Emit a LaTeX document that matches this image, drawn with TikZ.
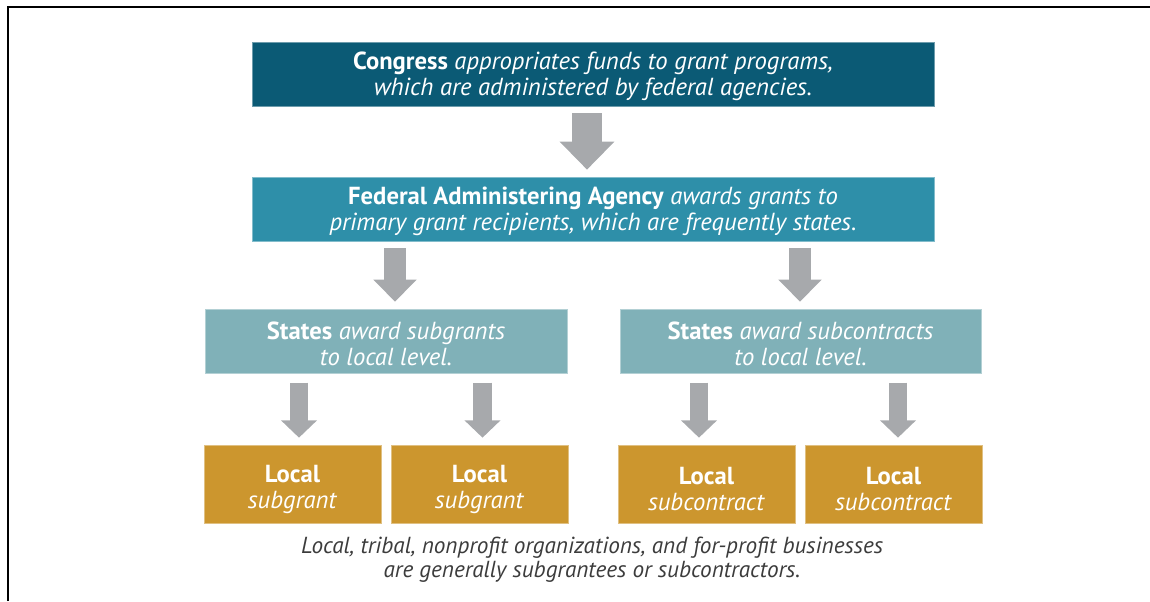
\documentclass[tikz,border=0pt]{standalone}
\usepackage{fontspec}
\setmainfont{PT Sans}
\usepackage{xcolor}
\usetikzlibrary{positioning,arrows.meta}
\definecolor{topblue}{HTML}{0B5A75}
\definecolor{midblue}{HTML}{2E8FA9}
\definecolor{lowblue}{HTML}{80B1B8}
\definecolor{gold}{HTML}{CC962E}
\definecolor{arrowgray}{HTML}{A7A9AC}
\definecolor{notegray}{HTML}{3C3C3C}
\newcommand{\pushstrut}[1]{\rule{0pt}{#1}}

\begin{document}
\begin{tikzpicture}[x=0.75pt,y=-0.75pt,
    box/.style={inner sep=0pt, text=white, align=center,
        font=\fontsize{18.5}{19.5}\selectfont},
    flow/.style={arrowgray, line width=#1},
    bigtip/.style={-{Triangle[width=39.75pt,length=21pt]}},
    midtip/.style={-{Triangle[width=31.5pt,length=16.5pt]}},
    smalltip/.style={-{Triangle[width=26.25pt,length=13pt]}}]
    \useasboundingbox (0,0) rectangle (1150,601);
    \draw[line width=2pt] (8,601) -- (8,7) -- (1150,7);

    \node (congress) [box, fill=topblue, draw=topblue!60!white, line width=0.5pt,
        minimum width=511.5pt, minimum height=48pt] at (593,74)
        {\pushstrut{17pt}\textbf{Congress} \textit{appropriates funds to grant programs,}\\
         \textit{which are administered by federal agencies.}};
    \node (agency) [box, fill=midblue, draw=midblue!60!white, line width=0.5pt,
        minimum width=511.5pt, minimum height=48pt] at (593,209)
        {\pushstrut{17pt}\textbf{Federal Administering Agency} \textit{awards grants to}\\
         \textit{primary grant recipients, which are frequently states.}};

    \node (subgr) [box, fill=lowblue, draw=lowblue!60!white, line width=0.5pt,
        minimum width=271.5pt, minimum height=48pt] at (386,341)
        {\pushstrut{17pt}\textbf{States} \textit{award subgrants}\\ \textit{to local level.}};
    \node (subco) [box, fill=lowblue, draw=lowblue!60!white, line width=0.5pt,
        minimum width=271pt, minimum height=48pt] at (800.5,341)
        {\pushstrut{17pt}\textbf{States} \textit{award subcontracts}\\ \textit{to local level.}};

    \node (loc1) [box, fill=gold, draw=gold!60!white, line width=0.5pt,
        minimum width=132.75pt, minimum height=58.5pt] at (292.5,484)
        {\pushstrut{21pt}\textbf{Local}\\ \textit{subgrant}};
    \node (loc2) [box, fill=gold, draw=gold!60!white, line width=0.5pt,
        minimum width=132.75pt, minimum height=58.5pt] at (479.5,484)
        {\pushstrut{21pt}\textbf{Local}\\ \textit{subgrant}};
    \node (loc3) [box, fill=gold, draw=gold!60!white, line width=0.5pt,
        minimum width=132.75pt, minimum height=58.5pt] at (706.5,484)
        {\pushstrut{21pt}\textbf{Local}\\ \textit{subcontract}};
    \node (loc4) [box, fill=gold, draw=gold!60!white, line width=0.5pt,
        minimum width=132.75pt, minimum height=58.5pt] at (893.5,484)
        {\pushstrut{21pt}\textbf{Local}\\ \textit{subcontract}};

    \node (note) [align=center, text=notegray, font=\fontsize{17.4}{18}\selectfont\itshape]
        at (592,560)
        {Local, tribal, nonprofit organizations, and for-profit businesses\\
         are generally subgrantees or subcontractors.};

    % grey block arrows
    \draw[flow=22.5pt, bigtip, shorten <=5.25pt, shorten >=5.25pt]
        (congress.south -| 587,0) -- (agency.north -| 587,0);
    \draw[flow=17pt, midtip, shorten <=5.25pt, shorten >=5.25pt]
        (agency.south -| 395,0) -- (subgr.north -| 395,0);
    \draw[flow=17pt, midtip, shorten <=5.25pt, shorten >=5.25pt]
        (agency.south -| 800,0) -- (subco.north -| 800,0);
    \draw[flow=14pt, smalltip, shorten <=7pt, shorten >=5.25pt]
        (subgr.south -| 299,0) -- (loc1.north -| 299,0);
    \draw[flow=14pt, smalltip, shorten <=7pt, shorten >=5.25pt]
        (subgr.south -| 482.5,0) -- (loc2.north -| 482.5,0);
    \draw[flow=14pt, smalltip, shorten <=7pt, shorten >=5.25pt]
        (subco.south -| 699,0) -- (loc3.north -| 699,0);
    \draw[flow=14pt, smalltip, shorten <=7pt, shorten >=5.25pt]
        (subco.south -| 898,0) -- (loc4.north -| 898,0);
\end{tikzpicture}
\end{document}
